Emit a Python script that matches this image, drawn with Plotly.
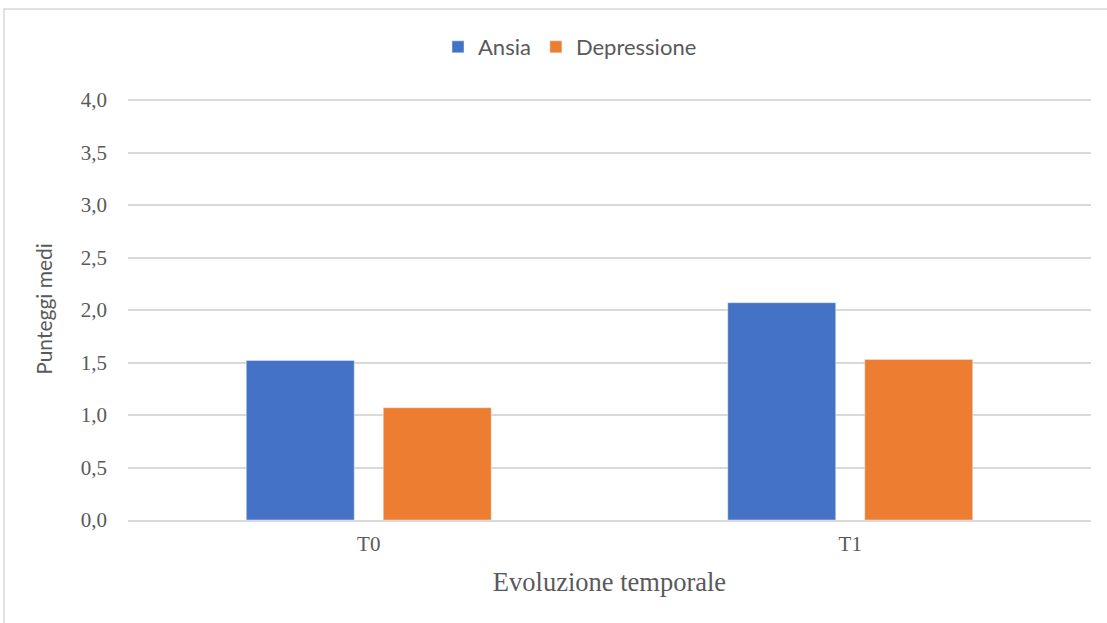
import plotly.graph_objects as go

categories = ["T0", "T1"]
ansia = [1.52, 2.07]
depressione = [1.07, 1.53]
y_ticks = [0, 0.5, 1.0, 1.5, 2.0, 2.5, 3.0, 3.5, 4.0]
y_ticklabels = ["0,0", "0,5", "1,0", "1,5", "2,0", "2,5", "3,0", "3,5", "4,0"]

fig = go.Figure()
fig.add_trace(go.Bar(name="Ansia", x=categories, y=ansia, marker_color="#4472C4"))
fig.add_trace(go.Bar(name="Depressione", x=categories, y=depressione, marker_color="#ED7D31"))

W, H = 1107, 623
ml, mr, mt, mb = 128, 16, 98, 103
pw, ph = W - ml - mr, H - mt - mb

fig.update_layout(
    width=W, height=H,
    margin=dict(l=ml, r=mr, t=mt, b=mb),
    paper_bgcolor="white", plot_bgcolor="white",
    barmode="group", bargap=0.431, bargroupgap=0.212,
    showlegend=True,
    legend=dict(orientation="h", x=(438 - ml) / pw, xanchor="left", y=(H - mb - 47) / ph, yanchor="middle",
                font=dict(family="Lato", size=22, color="#595959"), itemwidth=30,
                traceorder="normal"),
    xaxis=dict(showgrid=False, showline=True, linecolor="#d9d9d9", linewidth=1.5,
               ticklabelstandoff=4,
               tickfont=dict(family="Liberation Serif", size=21, color="#595959"),
               title=dict(text="Evoluzione temporale", standoff=17,
                          font=dict(family="Liberation Serif", size=26.5, color="#595959"))),
    yaxis=dict(range=[0, 4.02], tickvals=y_ticks, ticktext=y_ticklabels,
               showgrid=True, gridcolor="#d9d9d9", gridwidth=1.5, zeroline=False,
               ticklabelstandoff=20,
               tickfont=dict(family="Liberation Serif", size=21, color="#595959"),
               title=dict(text="Punteggi medi", standoff=22,
                          font=dict(family="Lato", size=21, color="#595959"))),
    shapes=[dict(type="rect", xref="paper", yref="paper",
                 x0=(4 - ml) / pw, x1=1.3, y0=-0.6, y1=(H - mb - 9) / ph,
                 line=dict(color="#d9d9d9", width=1.5), fillcolor="rgba(0,0,0,0)", layer="below")],
)

fig.write_html("out.html")
